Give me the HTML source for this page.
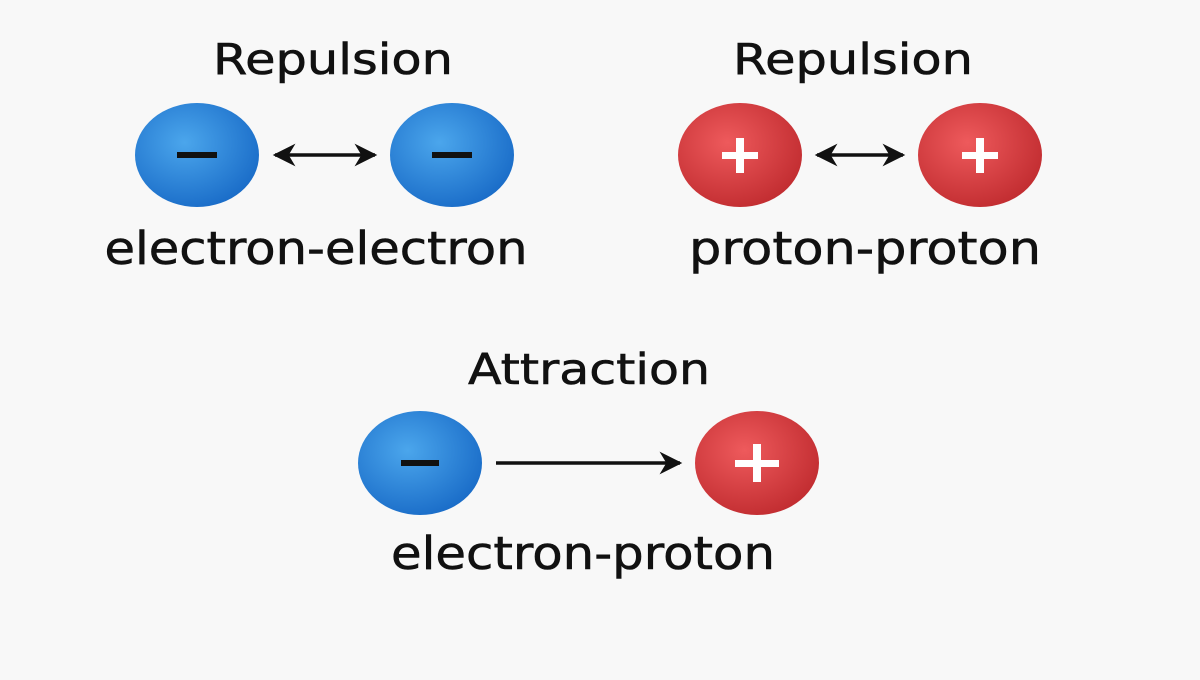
<!DOCTYPE html>
<html><head><meta charset="utf-8"><style>html,body{margin:0;padding:0;background:#f8f8f8}</style></head>
<body>
<svg width="1200" height="675" viewBox="0 0 1200 675" xmlns="http://www.w3.org/2000/svg">
<defs>
<radialGradient id="b" cx="0.4" cy="0.38" r="0.7"><stop offset="0" stop-color="#4ba6ec"/><stop offset="1" stop-color="#1769c6"/></radialGradient>
<radialGradient id="r" cx="0.4" cy="0.38" r="0.7"><stop offset="0" stop-color="#ee5a5c"/><stop offset="1" stop-color="#bf2a2e"/></radialGradient>
<marker id="ah" viewBox="0 0 10 10" refX="9" refY="5" markerWidth="6.5" markerHeight="6.5" orient="auto-start-reverse"><path d="M0,0 L10,5 L0,10 L3,5 Z" fill="#111"/></marker>
</defs>
<rect width="1200" height="675" fill="#f8f8f8"/>
<g font-family="'DejaVu Sans','Liberation Sans',sans-serif" fill="#111" stroke="#111" stroke-width="0.6" text-anchor="middle">
<text x="333" y="74" font-size="43" textLength="240" lengthAdjust="spacingAndGlyphs">Repulsion</text>
<text x="853" y="74" font-size="43" textLength="240" lengthAdjust="spacingAndGlyphs">Repulsion</text>
<text x="316" y="264" font-size="45" textLength="423" lengthAdjust="spacingAndGlyphs">electron-electron</text>
<text x="865" y="264" font-size="45" textLength="352" lengthAdjust="spacingAndGlyphs">proton-proton</text>
<text x="589" y="384" font-size="43" textLength="242" lengthAdjust="spacingAndGlyphs">Attraction</text>
<text x="583" y="569" font-size="45" textLength="384" lengthAdjust="spacingAndGlyphs">electron-proton</text>
</g>
<ellipse cx="197" cy="155" rx="62" ry="52" fill="url(#b)"/>
<ellipse cx="452" cy="155" rx="62" ry="52" fill="url(#b)"/>
<ellipse cx="740" cy="155" rx="62" ry="52" fill="url(#r)"/>
<ellipse cx="980" cy="155" rx="62" ry="52" fill="url(#r)"/>
<ellipse cx="420" cy="463" rx="62" ry="52" fill="url(#b)"/>
<ellipse cx="757" cy="463" rx="62" ry="52" fill="url(#r)"/>
<g fill="#111">
<rect x="177" y="152" width="40" height="6"/>
<rect x="432" y="152" width="40" height="6"/>
<rect x="401" y="460" width="38" height="6"/>
</g>
<g fill="#fff">
<rect x="722" y="152" width="36" height="7"/><rect x="736" y="138" width="8" height="35"/>
<rect x="962" y="152" width="36" height="7"/><rect x="976" y="138" width="8" height="35"/>
<rect x="735" y="460" width="44" height="7"/><rect x="753" y="444" width="8" height="38"/>
</g>
<g stroke="#111" stroke-width="3.5">
<line x1="275" y1="155" x2="375" y2="155" marker-start="url(#ah)" marker-end="url(#ah)"/>
<line x1="817" y1="155" x2="903" y2="155" marker-start="url(#ah)" marker-end="url(#ah)"/>
<line x1="496" y1="463" x2="680" y2="463" marker-end="url(#ah)"/>
</g>
</svg>
</body></html>
